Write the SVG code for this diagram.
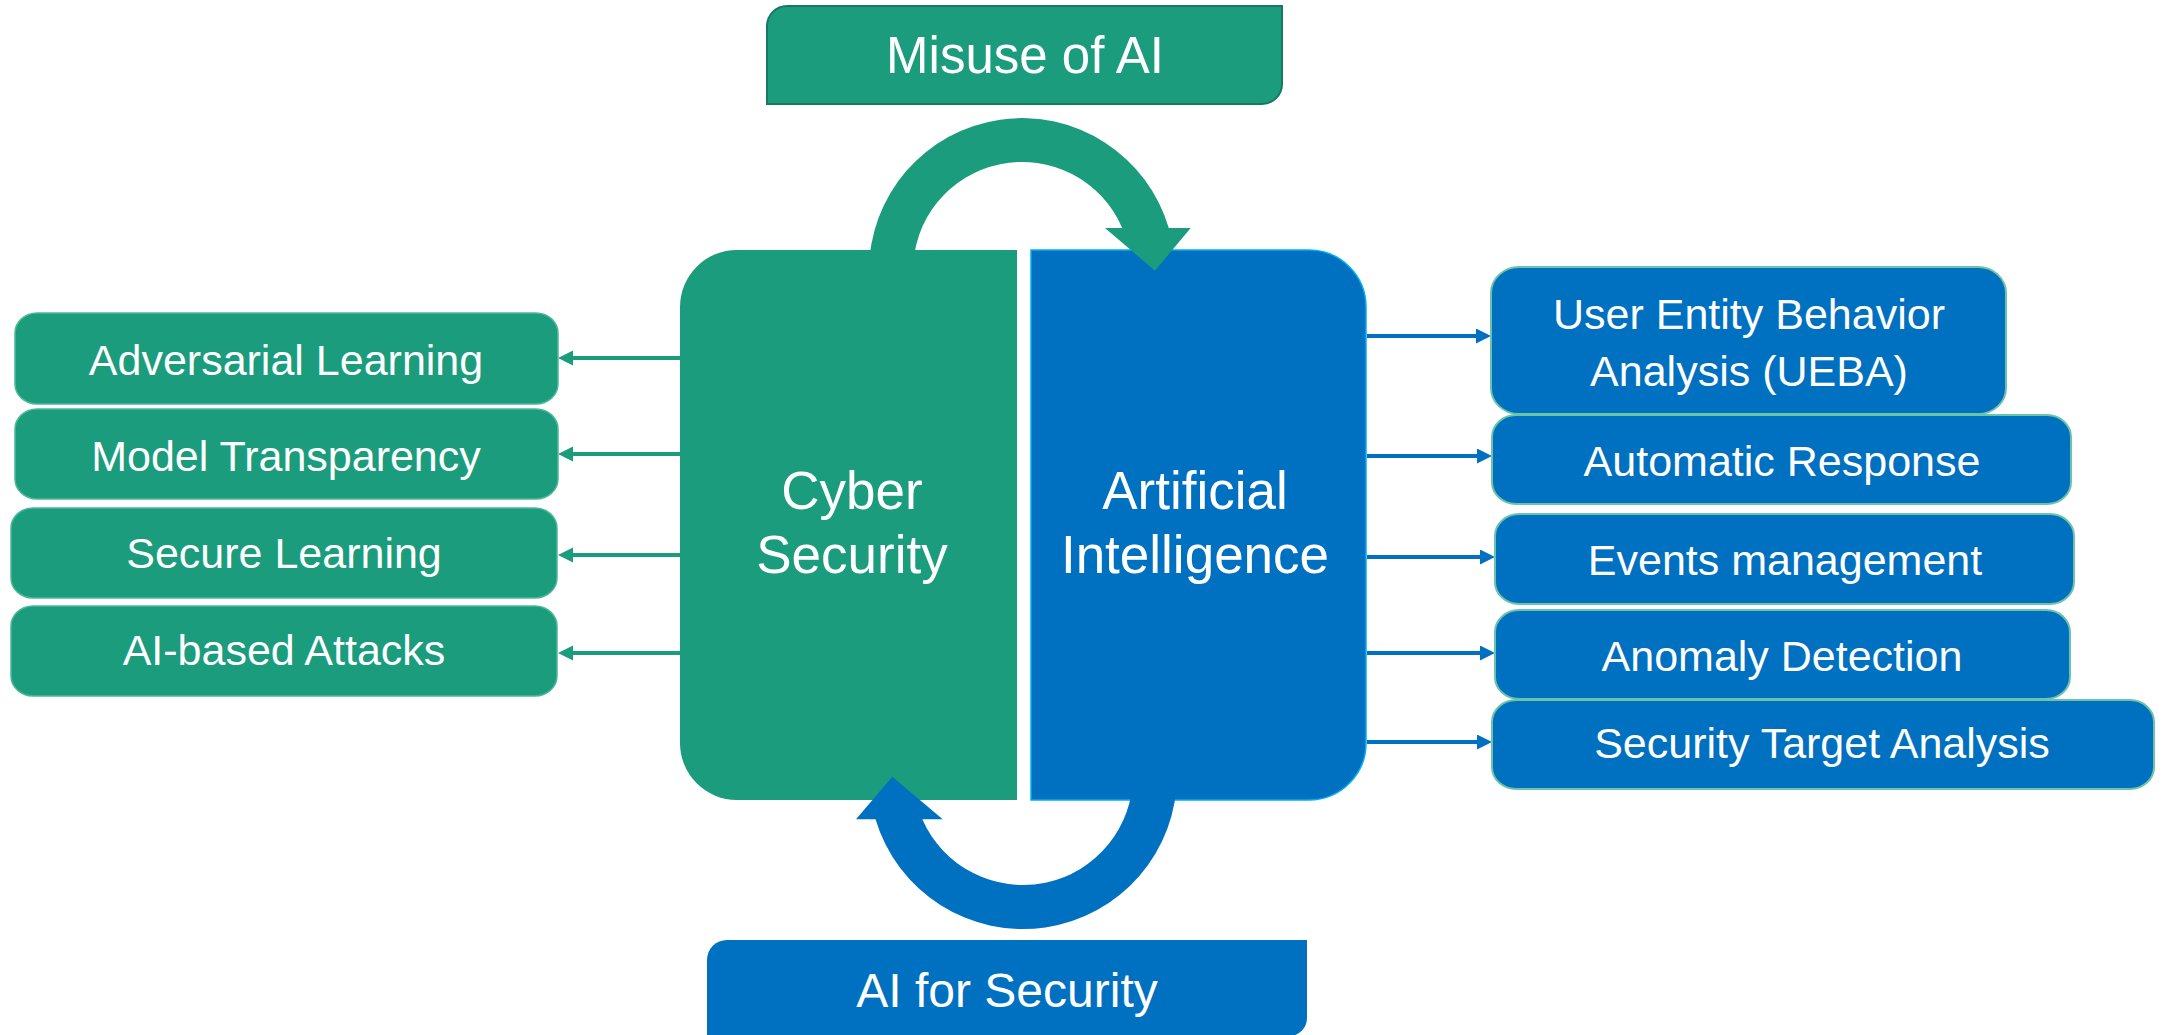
<svg xmlns="http://www.w3.org/2000/svg" width="2162" height="1035" viewBox="0 0 2162 1035">
<defs>
<style>
text{font-family:"Liberation Sans",Arial,sans-serif;fill:#FFFFFF;text-anchor:middle}
.t43{font-size:43px}
.t53{font-size:53px}
.g{fill:#1A9C7D}
.b{fill:#0070C0}
.lbox{fill:#1A9C7D;stroke:#4DB899;stroke-width:1.5}
.rbox{fill:#0070C0;stroke:#6CC3A8;stroke-width:2}
.cg{stroke:#1A9C7D;stroke-width:4;fill:none}
.cb{stroke:#0070C0;stroke-width:4;fill:none}
</style>
<marker id="ag" markerUnits="userSpaceOnUse" markerWidth="16" markerHeight="16" refX="0" refY="7.5" orient="auto" viewBox="0 0 16 16">
<path d="M0,0 L15,7.5 L0,15 Z" fill="#1A9C7D"/>
</marker>
<marker id="ab" markerUnits="userSpaceOnUse" markerWidth="16" markerHeight="16" refX="0" refY="7.5" orient="auto" viewBox="0 0 16 16">
<path d="M0,0 L15,7.5 L0,15 Z" fill="#0070C0"/>
</marker>
</defs>
<rect x="0" y="0" width="2162" height="1035" fill="#FFFFFF"/>

<g id="connectors">
<line class="cg" x1="680" y1="358" x2="573" y2="358" marker-end="url(#ag)"/>
<line class="cg" x1="680" y1="454" x2="573" y2="454" marker-end="url(#ag)"/>
<line class="cg" x1="680" y1="555" x2="573" y2="555" marker-end="url(#ag)"/>
<line class="cg" x1="680" y1="653" x2="573" y2="653" marker-end="url(#ag)"/>
<line class="cb" x1="1367" y1="336" x2="1476" y2="336" marker-end="url(#ab)"/>
<line class="cb" x1="1367" y1="456" x2="1477" y2="456" marker-end="url(#ab)"/>
<line class="cb" x1="1367" y1="557" x2="1480" y2="557" marker-end="url(#ab)"/>
<line class="cb" x1="1367" y1="653" x2="1480" y2="653" marker-end="url(#ab)"/>
<line class="cb" x1="1367" y1="742" x2="1477" y2="742" marker-end="url(#ab)"/>
</g>

<g id="cyber-security">
<path class="g" d="M1017,250 H737 A57,57 0 0 0 680,307 V743 A57,57 0 0 0 737,800 H1017 Z"/>
<text class="t53" x="852" y="509">Cyber</text>
<text class="t53" x="852" y="573">Security</text>
</g>

<g id="artificial-intelligence">
<path class="b" stroke="#00B0F0" stroke-width="1.5" d="M1031,250 H1309 A57,57 0 0 1 1366,307 V743 A57,57 0 0 1 1309,800 H1031 Z"/>
<text class="t53" x="1195" y="509">Artificial</text>
<text class="t53" x="1195" y="573">Intelligence</text>
</g>

<g id="misuse-arrow">
<path class="g" d="M869,271 A153,153 0 0 1 1168.8,228 L1190.7,228 L1155,270.7 L1105,228 L1122.2,228 A109,109 0 0 0 913,271 Z"/>
</g>

<g id="ai-for-security-arrow">
<path class="b" d="M1177,775 A154,154 0 0 1 875.5,819.3 L856,819.3 L892.3,776.7 L942.7,819.3 L922.3,819.3 A110,110 0 0 0 1133,775 Z"/>
</g>

<g id="misuse-of-ai">
<path class="g" stroke="#157A60" stroke-width="2" d="M787,6 H1282 V84 A20,20 0 0 1 1262,104 H767 V26 A20,20 0 0 1 787,6 Z"/>
<text x="1025" y="73" style="font-size:51px">Misuse of AI</text>
</g>

<g id="ai-for-security">
<path class="b" d="M727,940 H1307 V1018 A18,18 0 0 1 1289,1036 H707 V960 A20,20 0 0 1 727,940 Z"/>
<text x="1007" y="1007" style="font-size:48px">AI for Security</text>
</g>

<g id="adversarial-learning">
<rect class="lbox" x="15" y="313" width="543" height="91" rx="22" ry="20"/>
<text class="t43" x="286" y="375">Adversarial Learning</text>
</g>
<g id="model-transparency">
<rect class="lbox" x="15" y="409" width="543" height="90" rx="22" ry="20"/>
<text class="t43" x="286" y="471">Model Transparency</text>
</g>
<g id="secure-learning">
<rect class="lbox" x="11" y="508" width="546" height="90" rx="22" ry="20"/>
<text class="t43" x="284" y="568">Secure Learning</text>
</g>
<g id="ai-based-attacks">
<rect class="lbox" x="11" y="606" width="546" height="90" rx="22" ry="20"/>
<text class="t43" x="284" y="665">AI-based Attacks</text>
</g>

<g id="ueba">
<rect class="rbox" x="1491" y="267" width="515" height="147" rx="28" ry="26"/>
<text class="t43" x="1749" y="329">User Entity Behavior</text>
<text class="t43" x="1749" y="386">Analysis (UEBA)</text>
</g>
<g id="automatic-response">
<rect class="rbox" x="1492" y="415" width="579" height="89" rx="24" ry="22"/>
<text class="t43" x="1782" y="476">Automatic Response</text>
</g>
<g id="events-management">
<rect class="rbox" x="1495" y="514" width="579" height="90" rx="24" ry="22"/>
<text class="t43" x="1785" y="575">Events management</text>
</g>
<g id="anomaly-detection">
<rect class="rbox" x="1495" y="610" width="575" height="89" rx="24" ry="22"/>
<text class="t43" x="1782" y="671">Anomaly Detection</text>
</g>
<g id="security-target-analysis">
<rect class="rbox" x="1492" y="700" width="662" height="89" rx="24" ry="22"/>
<text class="t43" x="1822" y="758">Security Target Analysis</text>
</g>
</svg>
